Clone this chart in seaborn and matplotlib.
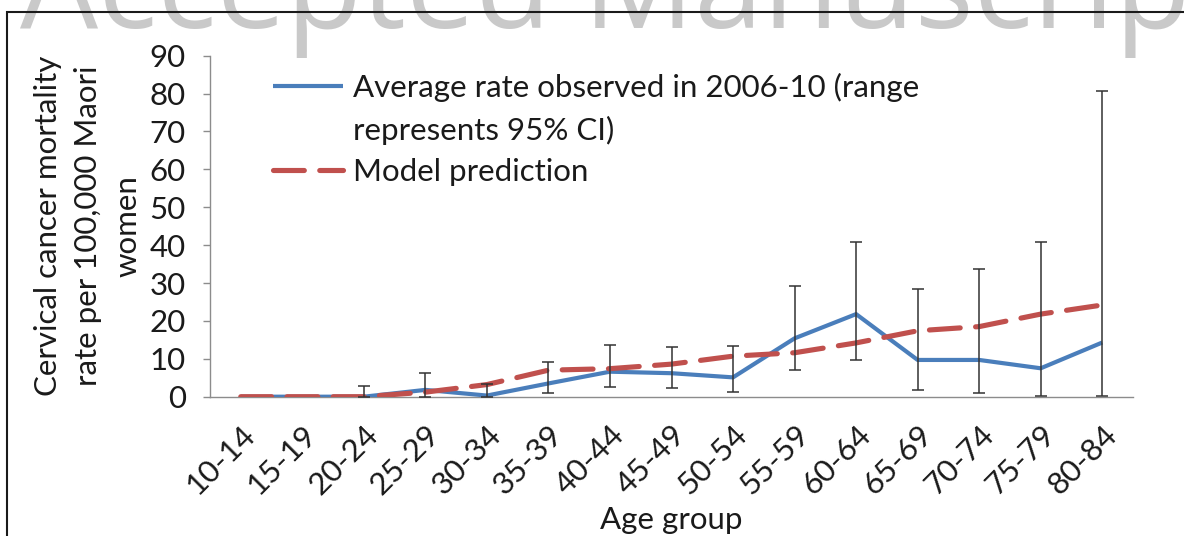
import numpy as np
import pandas as pd
import matplotlib
matplotlib.use("Agg")
import matplotlib.pyplot as plt
import seaborn as sns
from matplotlib.lines import Line2D
from matplotlib.patches import Rectangle
from matplotlib.transforms import ScaledTranslation

# ---- data ----
categories = ['10-14', '15-19', '20-24', '25-29', '30-34', '35-39', '40-44', '45-49',
              '50-54', '55-59', '60-64', '65-69', '70-74', '75-79', '80-84']
observed = [0, 0, 0, 1.8, 0.3, 3.5, 6.6, 6.2, 5.1, 15.4, 21.8, 9.7, 9.7, 7.5, 14.3]
ci_low = [np.nan, np.nan, 0, 0, 0, 0.9, 2.6, 2.2, 1.3, 7.0, 9.7, 1.9, 0.9, 0.2, 0.2]
ci_high = [np.nan, np.nan, 2.7, 6.3, 3.3, 9.1, 13.6, 13.0, 13.4, 29.3, 40.8, 28.3, 33.7, 40.8, 80.7]
model = [0, 0, 0, 1.2, 3.2, 7.0, 7.4, 8.6, 10.7, 11.6, 14.2, 17.4, 18.5, 21.8, 24.2]
yticks = [0, 10, 20, 30, 40, 50, 60, 70, 80, 90]

label_obs_1 = 'Average rate observed in 2006-10 (range'
label_obs_2 = 'represents 95% CI)'
label_model = 'Model prediction'

sns.set_style('white')
FONT = ['Lato', 'DejaVu Sans']
plt.rcParams['font.family'] = FONT
FS = 22.5
TXT = '#1a1a1a'

W, H = 1184, 536
fig = plt.figure(figsize=(W / 100, H / 100), dpi=100)
fig.patch.set_facecolor('white')

# watermark
fig.text(20 / W, 1 - 28 / H, 'Accepted Manuscript', fontsize=89, color='#c9c9c9',
         family=['Open Sans', 'DejaVu Sans'], va='baseline', ha='left', zorder=0)
# frame
fig.patches.append(Rectangle((7 / W, -0.2), 1.5, 1.2 - 12 / H, transform=fig.transFigure,
                             fill=False, ec='#1a1a1a', lw=1.5, zorder=1))

ax = fig.add_axes([210 / W, 1 - 396.7 / H, (1133 - 210) / W, (396.7 - 55.7) / H])
ax.patch.set_alpha(0)

pos = np.arange(len(categories))
df = pd.DataFrame({'pos': pos, 'observed': observed, 'model': model,
                   'lo': ci_low, 'hi': ci_high})

blue = '#4a7ebb'
red = '#c0504d'
sns.lineplot(data=df, x='pos', y='observed', ax=ax, color=blue, lw=3.0,
             errorbar=None, zorder=3, solid_capstyle='butt')
sns.lineplot(data=df, x='pos', y='model', ax=ax, color=red, lw=3.7,
             errorbar=None, zorder=4, dashes=(6, 3), dash_capstyle='round')

obs = df['observed'].to_numpy()
yerr = np.vstack([obs - df['lo'].to_numpy(), df['hi'].to_numpy() - obs])
ax.errorbar(df['pos'], obs, yerr=yerr, fmt='none', ecolor='#333333', elinewidth=1.1,
            capsize=4.3, capthick=1.1, zorder=5)

ax.set_xlim(-0.5, len(categories) - 0.5)
ax.set_ylim(0, 90)
ax.set_yticks(yticks)
ax.set_yticklabels([str(v) for v in yticks], fontsize=FS, color=TXT)
ax.set_xticks(pos)
ax.set_xticklabels(categories, fontsize=FS, color=TXT, rotation=45,
                   ha='right', va='top', rotation_mode='anchor')
off = ScaledTranslation(6 / 100, 0, fig.dpi_scale_trans)
for lab in ax.get_xticklabels():
    lab.set_transform(lab.get_transform() + off)
ax.set_xticks(np.arange(len(categories) + 1) - 0.5, minor=True)
ax.tick_params(axis='x', which='major', length=0, pad=17)
ax.tick_params(axis='x', which='minor', length=7.5, width=1.0, color='#8c8c8c', direction='out')
ax.tick_params(axis='y', which='major', length=5, width=1.0, color='#8c8c8c',
               direction='out', pad=12.5, left=True)

for s in ['top', 'right']:
    ax.spines[s].set_visible(False)
for s in ['left', 'bottom']:
    ax.spines[s].set_color('#8c8c8c')
    ax.spines[s].set_linewidth(1.0)

ax.set_xlabel('Age group', fontsize=FS, color=TXT)
ax.xaxis.set_label_coords(0.5, -(520 - 396.7) / (396.7 - 55.7))
ax.xaxis.label.set_va('center')
ax.set_ylabel('Cervical cancer mortality\nrate per 100,000 Maori\nwomen', fontsize=FS,
              color=TXT, linespacing=1.5, ha='center')
ax.yaxis.set_label_coords(-(210 - 88) / (1133 - 210), 0.5)
ax.yaxis.label.set_va('center')

handles = [ax.lines[0], Line2D([], [], lw=0), ax.lines[1]]
leg = ax.legend(handles, [label_obs_1, label_obs_2, label_model], loc='upper left',
                bbox_to_anchor=(273 / W, 1 - 73 / H), bbox_transform=fig.transFigure,
                frameon=False, fontsize=FS, handlelength=2.25, handletextpad=0.32,
                labelspacing=0.43, borderpad=0, borderaxespad=0)
for t in leg.get_texts():
    t.set_color(TXT)

fig.savefig('out.png', dpi=100, facecolor='white')
